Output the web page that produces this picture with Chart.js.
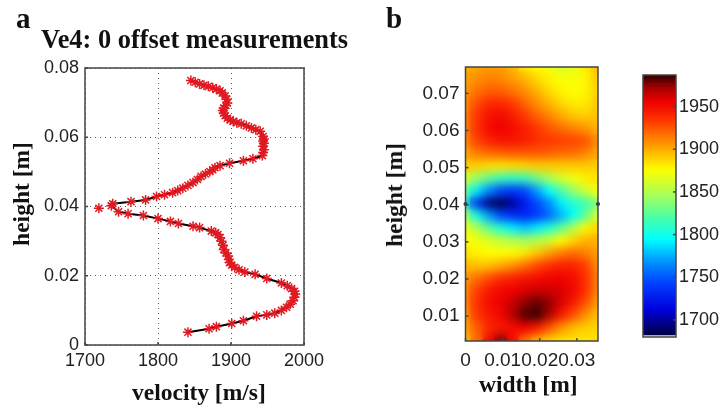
<!DOCTYPE html>
<html>
<head>
<meta charset="utf-8">
<title>Ve4: 0 offset measurements</title>
<script src="https://cdn.jsdelivr.net/npm/chart.js@4"></script>
<style>
  html, body { margin: 0; background: #fff; overflow: hidden; }
  #page { position: relative; width: 721px; height: 409px; filter: blur(0.4px); }
  canvas { position: absolute; top: 0; }
  .panel, .label, .title { position: absolute; font-family: "Liberation Serif", serif; font-weight: bold; color: #111; white-space: nowrap; }
  .panel { font-size: 29px; }
  .title { font-size: 26.4px; line-height: 30px; }
  .label { font-size: 23.5px; line-height: 28px; }
  .vertical { transform: translate(-50%, -50%) rotate(-90deg); }
</style>
</head>
<body>
<div id="page">
  <canvas id="profile" width="388" height="409" style="left:0"></canvas>
  <canvas id="heat" width="250" height="409" style="left:380px"></canvas>
  <canvas id="bar" width="81" height="409" style="left:640px"></canvas>
  <div class="panel" style="left:16px;top:2px">a</div>
  <div class="panel" style="left:386px;top:2px">b</div>
  <div class="title" style="left:41px;top:24px">Ve4: 0 offset measurements</div>
  <div class="label vertical" style="left:21px;top:194px">height [m]</div>
  <div class="label" style="left:132px;top:378px">velocity [m/s]</div>
  <div class="label vertical" style="left:394px;top:195px">height [m]</div>
  <div class="label" style="left:479px;top:370px">width [m]</div>
</div>
<script>
// panel a: velocity profile, top to bottom (nulls: the one reading off the line)
const profileVelocity = [1845, 1851, 1857, 1863, 1869, 1875, 1880, 1885, 1888, 1892, 1894, 1895, 1893, 1890, 1889, 1890, 1892, 1895, 1899, 1903, 1908, 1914, 1921, 1928, 1934, 1940, 1944, 1945, 1944, 1945, 1944, 1945, 1944, 1943, 1930, 1917, 1898, 1885, 1878, 1875, 1871, 1865, 1859, 1854, 1848, 1841, 1834, 1827, 1820, 1809, 1798, 1783, 1763, 1738, null, 1719, null, 1736, 1746, 1759, 1780, 1800, 1817, 1828, 1848, 1857, 1873, 1879, 1882, 1885, 1887, 1889, 1890, 1893, 1896, 1897, 1898, 1901, 1905, 1911, 1919, 1933, 1949, 1969, 1977, 1983, 1987, 1988, 1987, 1985, 1981, 1976, 1969, 1960, 1949, 1935, 1917, 1901, 1880, 1870, 1841];
const profileHeight = [0.0764, 0.0759, 0.0754, 0.0750, 0.0747, 0.0743, 0.0739, 0.0734, 0.0728, 0.0719, 0.0710, 0.0699, 0.0692, 0.0684, 0.0677, 0.0670, 0.0662, 0.0655, 0.0650, 0.0646, 0.0642, 0.0639, 0.0633, 0.0627, 0.0622, 0.0617, 0.0602, 0.0595, 0.0589, 0.0583, 0.0574, 0.0564, 0.0556, 0.0547, 0.0538, 0.0532, 0.0525, 0.0518, 0.0512, 0.0506, 0.0501, 0.0494, 0.0487, 0.0478, 0.0469, 0.0461, 0.0453, 0.0446, 0.0440, 0.0434, 0.0429, 0.0419, 0.0414, 0.0408, null, 0.0395, null, 0.0402, 0.0385, 0.0379, 0.0374, 0.0365, 0.0357, 0.0351, 0.0343, 0.0339, 0.0329, 0.0324, 0.0319, 0.0310, 0.0300, 0.0288, 0.0276, 0.0266, 0.0257, 0.0247, 0.0238, 0.0231, 0.0224, 0.0217, 0.0211, 0.0204, 0.0192, 0.0179, 0.0171, 0.0163, 0.0155, 0.0147, 0.0138, 0.0128, 0.0118, 0.0109, 0.0100, 0.0092, 0.0087, 0.0083, 0.0070, 0.0062, 0.0053, 0.0047, 0.0037];
const velocityTicks = [1700, 1800, 1900, 2000];
const profileHeightTicks = [0, 0.02, 0.04, 0.06, 0.08];

// panel b: velocity read on a grid, rows from top to bottom
const mapWidths = [0, 0.00325, 0.0065, 0.00975, 0.013, 0.01625, 0.0195, 0.02275, 0.026, 0.02925, 0.0325, 0.0357];
const mapHeights = [0.0771, 0.0737, 0.0704, 0.0670, 0.0637, 0.0603, 0.0570, 0.0536, 0.0503, 0.0469, 0.0436, 0.0402, 0.0369, 0.0335, 0.0302, 0.0268, 0.0235, 0.0201, 0.0168, 0.0134, 0.0101, 0.0067, 0.0033];
const mapVelocity = [
  [1898, 1902, 1904, 1903, 1896, 1882, 1876, 1872, 1862, 1868, 1882, 1894],
  [1902, 1908, 1912, 1910, 1904, 1897, 1887, 1879, 1875, 1873, 1878, 1892],
  [1904, 1916, 1922, 1922, 1916, 1908, 1898, 1887, 1879, 1875, 1878, 1890],
  [1908, 1928, 1938, 1940, 1933, 1921, 1908, 1898, 1888, 1882, 1882, 1892],
  [1910, 1934, 1948, 1951, 1944, 1933, 1921, 1911, 1901, 1893, 1890, 1894],
  [1910, 1936, 1950, 1955, 1950, 1943, 1934, 1925, 1918, 1912, 1907, 1898],
  [1908, 1930, 1941, 1946, 1946, 1943, 1936, 1933, 1931, 1930, 1926, 1908],
  [1902, 1913, 1918, 1921, 1923, 1923, 1923, 1921, 1918, 1917, 1912, 1902],
  [1890, 1890, 1886, 1884, 1886, 1888, 1891, 1891, 1891, 1891, 1891, 1890],
  [1862, 1842, 1826, 1815, 1810, 1815, 1831, 1847, 1862, 1872, 1880, 1884],
  [1830, 1790, 1765, 1745, 1738, 1745, 1770, 1795, 1820, 1840, 1860, 1872],
  [1805, 1735, 1695, 1685, 1700, 1725, 1745, 1765, 1790, 1805, 1815, 1835],
  [1850, 1800, 1770, 1745, 1735, 1730, 1740, 1755, 1775, 1795, 1825, 1862],
  [1870, 1850, 1825, 1805, 1790, 1780, 1790, 1805, 1825, 1850, 1877, 1888],
  [1876, 1872, 1865, 1855, 1850, 1845, 1850, 1860, 1876, 1888, 1898, 1898],
  [1885, 1879, 1876, 1876, 1876, 1881, 1892, 1903, 1913, 1918, 1913, 1903],
  [1896, 1893, 1894, 1900, 1907, 1917, 1927, 1936, 1941, 1941, 1932, 1908],
  [1904, 1917, 1926, 1936, 1941, 1946, 1950, 1953, 1955, 1950, 1937, 1913],
  [1908, 1931, 1945, 1952, 1955, 1960, 1962, 1962, 1960, 1952, 1937, 1911],
  [1908, 1936, 1950, 1955, 1965, 1975, 1980, 1975, 1960, 1945, 1927, 1904],
  [1904, 1933, 1945, 1952, 1968, 1982, 1985, 1970, 1945, 1927, 1908, 1895],
  [1899, 1922, 1940, 1945, 1950, 1955, 1945, 1926, 1908, 1896, 1890, 1888],
  [1895, 1917, 1950, 1975, 1950, 1917, 1899, 1889, 1885, 1883, 1883, 1885]
];
const mapWidthTicks = [0, 0.01, 0.02, 0.03];
const mapHeightTicks = [0.01, 0.02, 0.03, 0.04, 0.05, 0.06, 0.07];
const edgeMarkWidths = [0, 0.0357];
const edgeMarkHeights = [0.0402, 0.0402];

// colour bar
const barLevels = [1985, 1980, 1975, 1970, 1965, 1960, 1955, 1950, 1945, 1940, 1935, 1930, 1925, 1920, 1915, 1910, 1905, 1900, 1895, 1890, 1885, 1880, 1875, 1870, 1865, 1860, 1855, 1850, 1845, 1840, 1835, 1830, 1825, 1820, 1815, 1810, 1805, 1800, 1795, 1790, 1785, 1780, 1775, 1770, 1765, 1760, 1755, 1750, 1745, 1740, 1735, 1730, 1725, 1720, 1715, 1710, 1705, 1700, 1695, 1690, 1685];
const barTicks = [1700, 1750, 1800, 1850, 1900, 1950];
const colourValues = [1685, 1712, 1743, 1767, 1794, 1817, 1844, 1876, 1903, 1935, 1955, 1973, 1987];
const colourStops = [[0, 0, 80], [0, 0, 224], [0, 64, 255], [0, 144, 255], [0, 255, 255], [64, 255, 176], [160, 255, 96], [255, 255, 0], [255, 160, 0], [255, 48, 0], [240, 0, 0], [160, 0, 0], [42, 0, 0]];

const tickFont = { family: '"Liberation Sans", sans-serif', size: 18 };
const mapTickFont = { family: '"Liberation Sans", sans-serif', size: 19 };
const frameColor = '#444';

function valueColor(v) {
    const last = colourValues.length - 1;
    if (v <= colourValues[0]) return `rgb(${colourStops[0].join(',')})`;
    if (v >= colourValues[last]) return `rgb(${colourStops[last].join(',')})`;
    let i = 0;
    while (v > colourValues[i + 1]) i++;
    const f = (v - colourValues[i]) / (colourValues[i + 1] - colourValues[i]);
    const c = colourStops[i].map((s, k) => Math.round(s + (colourStops[i + 1][k] - s) * f));
    return `rgb(${c.join(',')})`;
}

function useTicks(values) {
    return scale => { scale.ticks = values.map(v => ({ value: v })); };
}

// box round the plot and short ticks pointing inwards, MATLAB style
const framePlugin = {
    id: 'frame',
    afterDraw(chart) {
        const { ctx, chartArea: a, scales } = chart;
        ctx.save();
        ctx.strokeStyle = frameColor;
        ctx.lineWidth = 1.5;
        ctx.strokeRect(a.left, a.top, a.right - a.left, a.bottom - a.top);
        Object.values(scales).forEach(s => {
            if (!s.options.display) return;
            s.ticks.forEach(t => {
                const p = s.getPixelForValue(t.value);
                ctx.beginPath();
                if (s.isHorizontal()) {
                    ctx.moveTo(p, a.bottom);
                    ctx.lineTo(p, a.bottom - 3);
                } else if (s.position === 'right') {
                    ctx.moveTo(a.right, p);
                    ctx.lineTo(a.right - 3, p);
                } else {
                    ctx.moveTo(a.left, p);
                    ctx.lineTo(a.left + 3, p);
                }
                ctx.stroke();
            });
        });
        ctx.restore();
    }
};

// smooths the colour cells of dataset 0 once the library has drawn them
const smoothPlugin = {
    id: 'smooth',
    afterDatasetDraw(chart, args, opts) {
        if (args.index !== 0 || !opts.radius) return;
        const { ctx, canvas, chartArea: a } = chart;
        const r = chart.currentDevicePixelRatio;
        const w = a.right - a.left, h = a.bottom - a.top;
        ctx.save();
        ctx.beginPath();
        ctx.rect(a.left, a.top, w, h);
        ctx.clip();
        ctx.filter = `blur(${opts.radius}px)`;
        ctx.drawImage(canvas, a.left * r, a.top * r, w * r, h * r, a.left, a.top, w, h);
        ctx.restore();
    }
};

Chart.register(framePlugin, smoothPlugin);
Chart.defaults.animation = false;
Chart.defaults.responsive = false;
Chart.defaults.plugins.legend.display = false;
Chart.defaults.plugins.tooltip.enabled = false;

const dotted = { color: '#555', drawTicks: false, lineWidth: 1 };
const dottedBorder = { display: false, dash: [1, 4] };

new Chart(document.getElementById('profile'), {
    type: 'scatter',
    data: {
        datasets: [{
            data: profileVelocity.map((v, i) => ({ x: v, y: profileHeight[i] })),
            showLine: true,
            spanGaps: false,
            borderColor: '#000',
            borderWidth: 2,
            pointStyle: 'star',
            pointRadius: 5,
            pointBorderColor: '#e01a22',
            pointBorderWidth: 1.5
        }]
    },
    options: {
        layout: { padding: { top: 68, right: 84 } },
        scales: {
            x: {
                min: 1700, max: 2000,
                afterBuildTicks: useTicks(velocityTicks),
                afterFit: s => { s.height = 64; },
                grid: dotted,
                border: dottedBorder,
                ticks: { font: tickFont, color: '#222', padding: 5, maxRotation: 0, callback: v => String(v) }
            },
            y: {
                min: 0, max: 0.08,
                afterBuildTicks: useTicks(profileHeightTicks),
                afterFit: s => { s.width = 85; },
                grid: dotted,
                border: dottedBorder,
                ticks: { font: tickFont, color: '#222', padding: 6, callback: v => String(v) }
            }
        }
    }
});

const mapCells = [];
const mapColours = [];
mapVelocity.forEach((row, r) => row.forEach((v, c) => {
    mapCells.push({ x: mapWidths[c], y: mapHeights[r] });
    mapColours.push(valueColor(v));
}));

new Chart(document.getElementById('heat'), {
    type: 'scatter',
    data: {
        datasets: [{
            data: mapCells,
            pointStyle: 'rect',
            pointRadius: 10,
            pointBorderWidth: 0,
            pointBackgroundColor: mapColours,
            order: 2
        }, {
            data: edgeMarkWidths.map((w, i) => ({ x: w, y: edgeMarkHeights[i] })),
            pointRadius: 2,
            pointBackgroundColor: '#333',
            pointBorderWidth: 0,
            clip: false,
            order: 1
        }]
    },
    options: {
        layout: { padding: { top: 67, right: 32 } },
        plugins: { smooth: { radius: 5 } },
        scales: {
            x: {
                min: 0, max: 0.0357,
                afterBuildTicks: useTicks(mapWidthTicks),
                afterFit: s => { s.height = 68; },
                grid: { display: false, drawTicks: false },
                border: { display: false },
                ticks: { font: mapTickFont, color: '#222', padding: 8, autoSkip: false, maxRotation: 0, callback: v => String(v) }
            },
            y: {
                min: 0.0033, max: 0.0771,
                afterBuildTicks: useTicks(mapHeightTicks),
                afterFit: s => { s.width = 85.5; },
                grid: { display: false, drawTicks: false },
                border: { display: false },
                ticks: { font: mapTickFont, color: '#222', padding: 6, callback: v => String(v) }
            }
        }
    }
});

new Chart(document.getElementById('bar'), {
    type: 'bar',
    data: {
        datasets: [{
            data: barLevels.map(v => ({ x: 1, y: v })),
            backgroundColor: barLevels.map(valueColor),
            categoryPercentage: 1,
            barPercentage: 1.1
        }]
    },
    options: {
        indexAxis: 'y',
        layout: { padding: { top: 75, left: 3, bottom: 72 } },
        plugins: { smooth: { radius: 1 } },
        scales: {
            x: { display: false, min: 0, max: 1 },
            y: {
                type: 'linear',
                position: 'right',
                offset: false,
                min: 1680, max: 1987,
                afterBuildTicks: useTicks(barTicks),
                afterFit: s => { s.width = 45; },
                grid: { display: false, drawTicks: false },
                border: { display: false },
                ticks: { font: tickFont, color: '#222', padding: 3, callback: v => String(v) }
            }
        }
    }
});
</script>
</body>
</html>
